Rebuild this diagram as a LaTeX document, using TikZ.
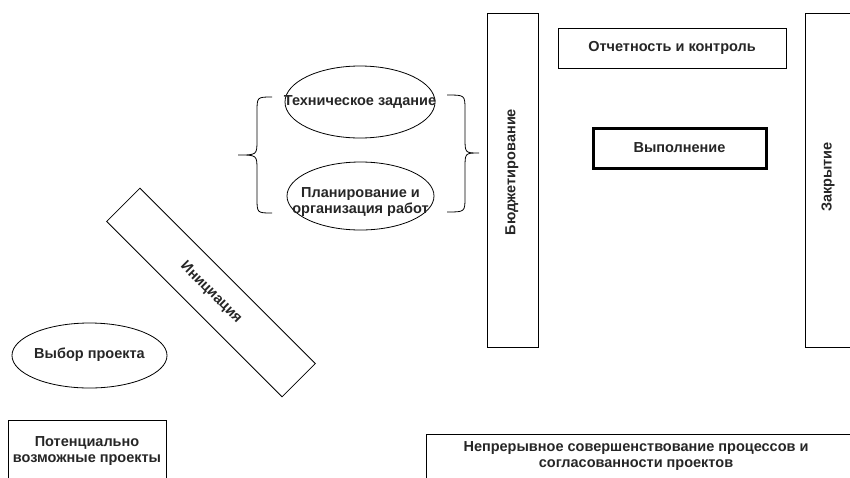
\documentclass[tikz,border=0pt]{standalone}
\usepackage{fontspec}
\setmainfont{Liberation Sans}
\usetikzlibrary{shapes.geometric}

\begin{document}
\begin{tikzpicture}[x=1pt,y=-1pt,
    every node/.style={font=\fontsize{14.5}{16}\selectfont\bfseries,align=center,text=black!85},
    box/.style={draw,line width=0.8pt,inner sep=0pt},
    oval/.style={draw,ellipse,line width=0.8pt,inner sep=0pt}]
  \clip (0,0) rectangle (850,477);

  % upright boxes
  \foreach \n/\cx/\cy/\w/\h/\t in {
      report/672/48/228/40/{Отчетность и контроль},
      potential/87/471/158/102/{},
      improve/663/472/474/76/{}}
  {
    \node[box,minimum width=\w,minimum height=\h] (\n) at (\cx,\cy) {\t};
  }
  \node[box,line width=3pt,minimum width=173,minimum height=40] (exec) at (679.5,148) {Выполнение};
  \node (potlbl) at (87,451) {Потенциально\\возможные проекты};
  \node (implbl) at (636,456) {Непрерывное совершенствование процессов и\\согласованности проектов};

  % tall side boxes
  \node[box,minimum width=51,minimum height=334] (budget) at (512.5,180) {};
  \node[rotate=90] (budlbl) at (512,172) {Бюджетирование};
  \node[box,minimum width=80,minimum height=334] (close) at (845,180) {};
  \node[rotate=90] (closelbl) at (828,177) {Закрытие};

  % ovals
  \foreach \n/\cx/\cy/\w/\h in {choice/89.5/355.5/155/65, spec/360/102/150/72, plan/360.5/196/147/68}
    \node[oval,minimum width=\w,minimum height=\h] (\n) at (\cx,\cy) {};
  \node (choicelbl) at (89.5,355) {Выбор проекта};
  \node (speclbl) at (360,102) {Техническое задание};
  \node (planlbl) at (360.5,202) {Планирование и\\организация работ};

  % initiation bar
  \node[box,rotate=-45,minimum width=248,minimum height=47] (init) at (211,292.5) {Инициация};

  % braces
  \draw[line width=0.8pt] (272,97) .. controls (257,97) .. (257,112) -- (257,140)
    .. controls (257,155) .. (238,155) .. controls (257,155) .. (257,170) -- (257,198)
    .. controls (257,213) .. (272,213);
  \draw[line width=0.8pt] (447,95) .. controls (465,95) .. (465,110) -- (465,138)
    .. controls (465,153) .. (479,153) .. controls (465,153) .. (465,168) -- (465,197)
    .. controls (465,212) .. (447,212);
\end{tikzpicture}
\end{document}
